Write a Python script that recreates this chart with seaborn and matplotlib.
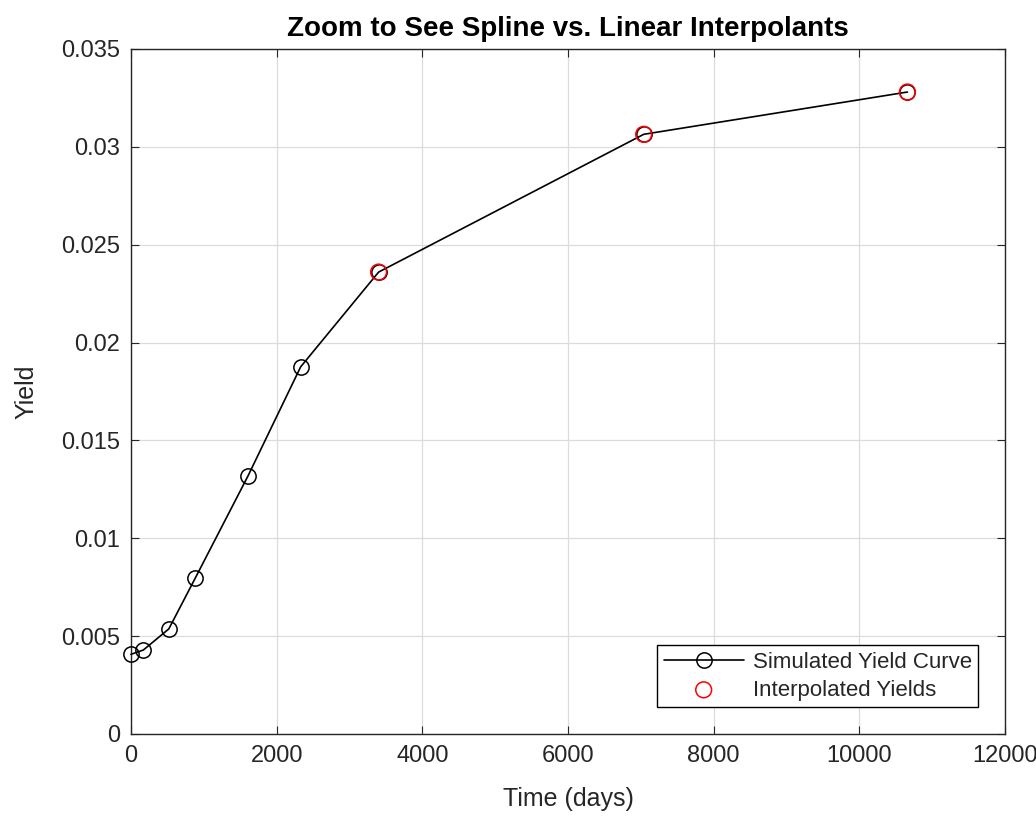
import numpy as np
import pandas as pd
import seaborn as sns
import matplotlib.pyplot as plt

# data
time_days = [0, 170, 520, 885, 1605, 2330, 3400, 7040, 10660]
yields = [0.00407, 0.00429, 0.00537, 0.00798, 0.01317, 0.01876, 0.02360, 0.03064, 0.03280]
interp_days = [3400, 7040, 10660]
interp_yields = [0.02360, 0.03064, 0.03280]

curve = pd.DataFrame({'Time': time_days, 'Yield': yields})
interp = pd.DataFrame({'Time': interp_days, 'Yield': interp_yields})

sns.set_style('whitegrid')
plt.rcParams['font.family'] = ['Liberation Sans', 'DejaVu Sans']

fig = plt.figure(figsize=(10.36, 8.19), dpi=100)
ax = fig.add_axes([0.1264, 0.1038, 0.8437, 0.8364])

sns.lineplot(data=curve, x='Time', y='Yield', ax=ax, color='black', linewidth=1.2,
             marker='o', markersize=11, markerfacecolor='none', markeredgecolor='black',
             markeredgewidth=1.1, label='Simulated Yield Curve', clip_on=False, zorder=4)
sns.scatterplot(data=interp, x='Time', y='Yield', ax=ax, s=130, marker='o',
                facecolor='none', edgecolor='red', linewidth=1.1,
                label='Interpolated Yields', zorder=5)

ax.set_xlim(0, 12000)
ax.set_ylim(0, 0.035)
ax.set_xticks(np.arange(0, 12001, 2000))
ax.set_yticks(np.arange(0, 0.0351, 0.005))
ax.set_yticklabels(['0', '0.005', '0.01', '0.015', '0.02', '0.025', '0.03', '0.035'])
ax.grid(True, color='#dcdcdc', linewidth=0.9)
for s in ax.spines.values():
    s.set_color('#262626')
    s.set_linewidth(1.0)
ax.tick_params(direction='in', length=6, width=0.8, colors='#262626', labelsize=17,
               top=True, right=True, bottom=True, left=True, pad=8)
ax.set_xlabel('Time (days)', fontsize=18, color='#262626', labelpad=14)
ax.set_ylabel('Yield', fontsize=18, color='#262626', labelpad=16)
ax.set_title('Zoom to See Spline vs. Linear Interpolants', fontsize=20,
             fontweight='bold', color='black', pad=9)

leg = ax.legend(loc='lower right', fontsize=16, frameon=True, fancybox=False,
                edgecolor='black', framealpha=1, borderaxespad=1.2,
                handlelength=3.6, handletextpad=0.4, labelspacing=0.3, borderpad=0.3)
leg.get_frame().set_linewidth(1.0)

fig.savefig('out.png', dpi=100)
